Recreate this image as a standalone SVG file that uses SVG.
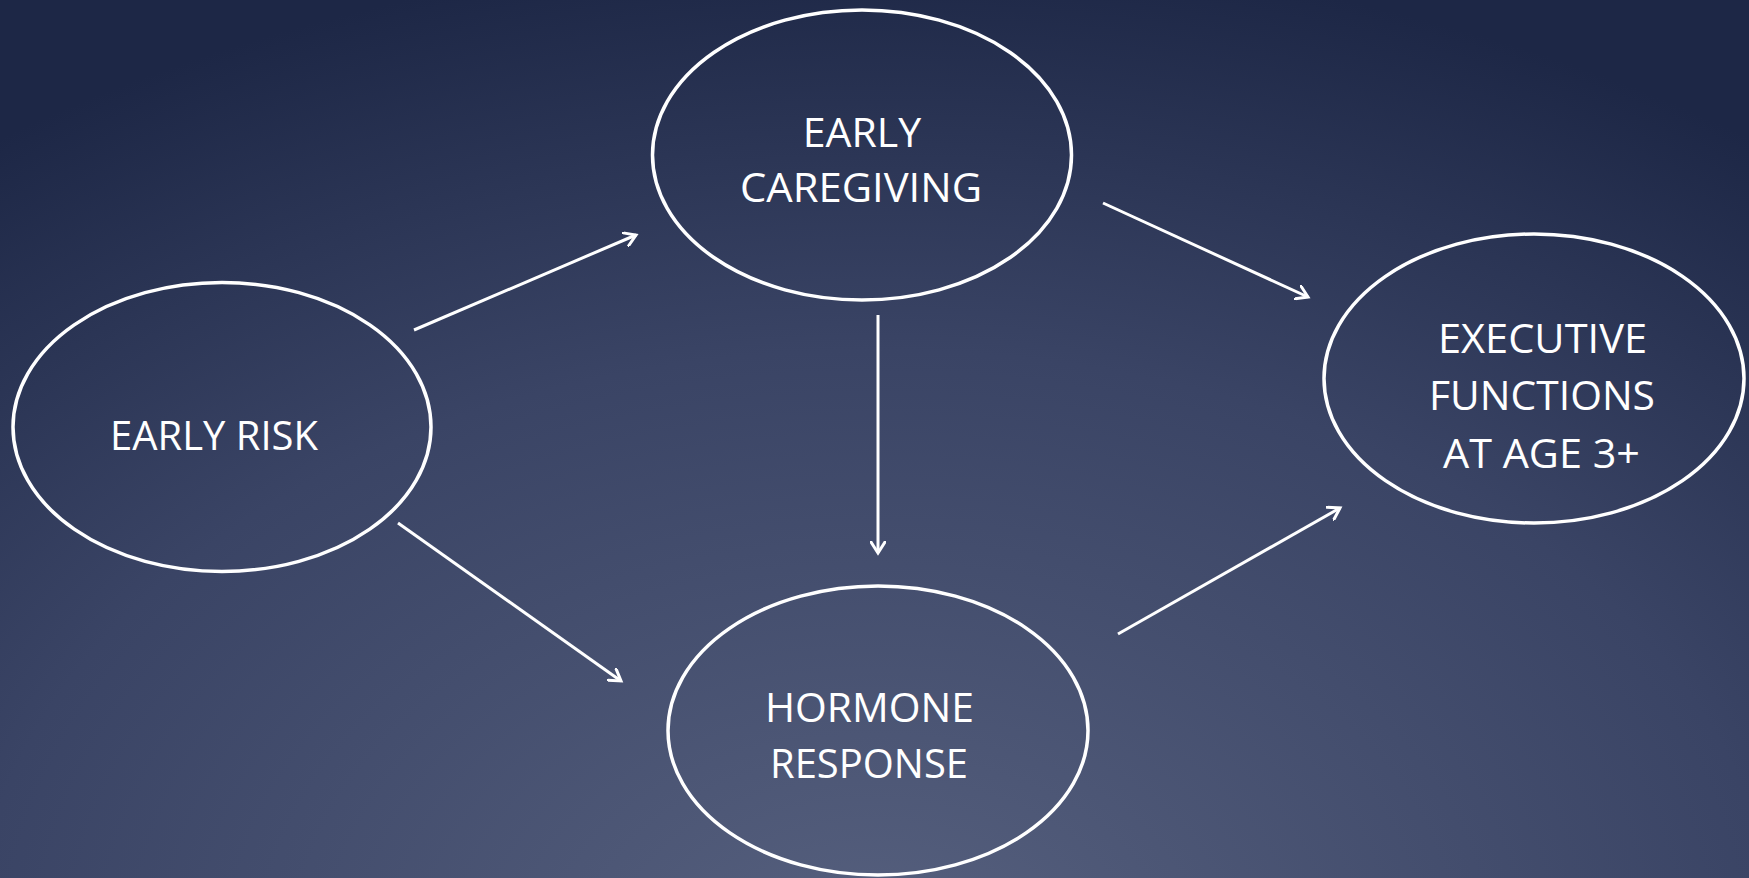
<svg xmlns="http://www.w3.org/2000/svg" width="1749" height="878" viewBox="0 0 1749 878">
<style>
.node{fill:none;stroke:#ffffff;stroke-width:3.5}
.lbl{fill:#ffffff;font-family:"Open Sans","Liberation Sans",sans-serif;font-size:41px;text-anchor:middle}
.conn{stroke:#ffffff;stroke-width:3;fill:none;marker-end:url(#arr)}
</style>
<defs>
<radialGradient id="bg" gradientUnits="userSpaceOnUse" cx="875" cy="950" r="1000" gradientTransform="translate(875 950) scale(1.5 1) translate(-875 -950)">
<stop offset="0" stop-color="#56607e"/>
<stop offset="0.6" stop-color="#3a4465"/>
<stop offset="1" stop-color="#1d2746"/>
</radialGradient>
<marker id="arr" markerWidth="16" markerHeight="16" refX="12" refY="8" orient="auto" markerUnits="userSpaceOnUse">
<path d="M1,1 L12,8 L1,15" fill="none" stroke="#ffffff" stroke-width="3" stroke-linecap="round"/>
</marker>
</defs>
<rect width="1749" height="878" fill="url(#bg)"/>
<g id="connectors">
<line class="conn" x1="414" y1="330" x2="636" y2="235"/>
<line class="conn" x1="398" y1="523" x2="621" y2="681"/>
<line class="conn" x1="1103" y1="203" x2="1308" y2="297"/>
<line class="conn" x1="1118" y1="634" x2="1340" y2="508"/>
<line class="conn" x1="878" y1="315" x2="878" y2="553"/>
</g>
<g id="early-risk">
<ellipse class="node" cx="222" cy="427" rx="209" ry="144.5"/>
<text class="lbl" x="214" y="450" textLength="208" lengthAdjust="spacingAndGlyphs">EARLY RISK</text>
</g>
<g id="early-caregiving">
<ellipse class="node" cx="862" cy="155" rx="209.5" ry="145"/>
<text class="lbl" x="862" y="147">EARLY</text>
<text class="lbl" x="861" y="202" textLength="242" lengthAdjust="spacingAndGlyphs">CAREGIVING</text>
</g>
<g id="hormone-response">
<ellipse class="node" cx="878" cy="730.5" rx="210" ry="144.5"/>
<text class="lbl" x="869.5" y="722" textLength="209" lengthAdjust="spacingAndGlyphs">HORMONE</text>
<text class="lbl" x="869" y="778" textLength="198" lengthAdjust="spacingAndGlyphs">RESPONSE</text>
</g>
<g id="executive-functions">
<ellipse class="node" cx="1534" cy="378.5" rx="210" ry="144.5"/>
<text class="lbl" x="1542.5" y="353" textLength="209" lengthAdjust="spacingAndGlyphs">EXECUTIVE</text>
<text class="lbl" x="1542" y="410" textLength="226" lengthAdjust="spacingAndGlyphs">FUNCTIONS</text>
<text class="lbl" x="1541.5" y="468" textLength="197" lengthAdjust="spacingAndGlyphs">AT AGE 3+</text>
</g>
</svg>
